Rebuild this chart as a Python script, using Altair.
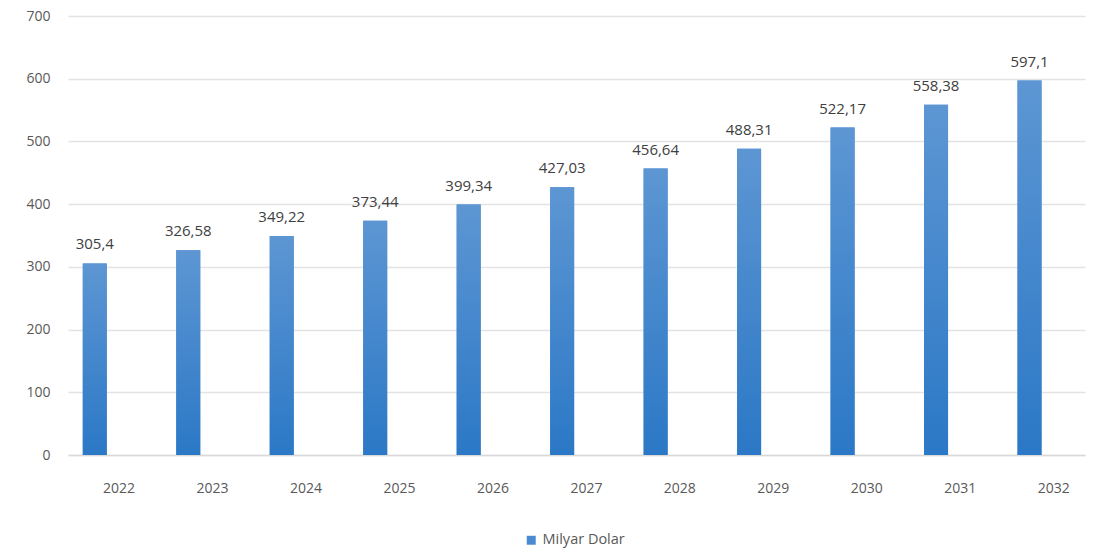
import altair as alt
import pandas as pd

years = [2022, 2023, 2024, 2025, 2026, 2027, 2028, 2029, 2030, 2031, 2032]
values = [305.4, 326.58, 349.22, 373.44, 399.34, 427.03, 456.64, 488.31, 522.17, 558.38, 597.1]
labels = ["305,4", "326,58", "349,22", "373,44", "399,34", "427,03", "456,64", "488,31", "522,17", "558,38", "597,1"]
series = "Milyar Dolar"

df = pd.DataFrame({"year": years, "value": values, "label": labels, "series": [series] * len(years)})

FONT = "Open Sans"
W, H = 1017, 439
LABEL_SHIFT = 0.254  # tick labels sit slightly right of bars in the reference

x = alt.X(
    "year:Q",
    scale=alt.Scale(domain=[2021.767, 2032.54], nice=False, zero=False),
    axis=alt.Axis(
        values=[yr + LABEL_SHIFT for yr in years], labelExpr="floor(datum.value)",
        title=None, grid=False, ticks=False,
        domainColor="#d9d9d9", domainWidth=1.5, labelPadding=26,
        labelFontSize=14, labelColor="#595959", labelFont=FONT,
    ),
)
y = alt.Y(
    "value:Q",
    scale=alt.Scale(domain=[0, 700], nice=False),
    axis=alt.Axis(
        values=[0, 100, 200, 300, 400, 500, 600, 700], title=None, domain=False, ticks=False,
        gridColor="#e3e3e3", gridWidth=1.5, labelPadding=18,
        labelFontSize=14, labelColor="#595959", labelFont=FONT,
    ),
)

base = alt.Chart(df)

legend_bar = base.mark_bar(size=24).encode(
    x=x, y=y,
    color=alt.Color(
        "series:N",
        scale=alt.Scale(range=["#4a8ad0"]),
        legend=alt.Legend(
            title=None, orient="none", legendX=456, legendY=517, symbolType="square",
            symbolSize=80, labelFontSize=14.5, labelColor="#595959", labelFont=FONT,
        ),
    ),
)

grad_bar = base.mark_bar(
    size=24,
    color=alt.Gradient(
        gradient="linear",
        stops=[alt.GradientStop(color="#5d96d3", offset=0), alt.GradientStop(color="#2b78c6", offset=1)],
        x1=0, x2=0, y1=0, y2=1,
    ),
).encode(x=x, y=y)

text = base.mark_text(
    dy=-11, baseline="bottom", fontSize=15, color="#404040", font=FONT
).encode(x=x, y=y, text="label:N")

chart = (
    alt.layer(legend_bar, grad_bar, text)
    .properties(
        width=W, height=H,
        background="white",
        autosize=alt.AutoSizeParams(type="none"),
        padding={"left": 68, "top": 16, "right": 20, "bottom": 103},
    )
    .configure_view(strokeWidth=0)
)

chart.save("out.html", embed_options={"renderer": "svg", "actions": False})
